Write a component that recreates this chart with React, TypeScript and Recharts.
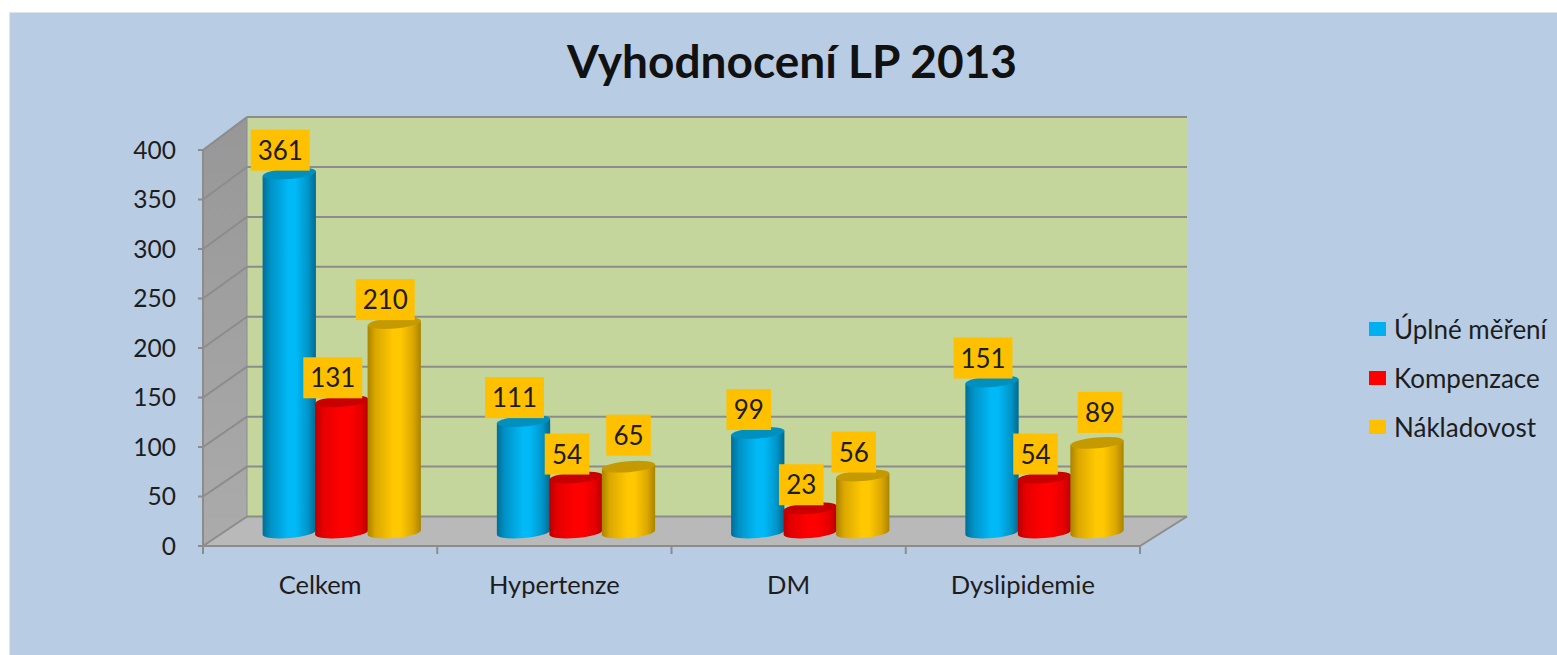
import { BarChart, Bar, XAxis, YAxis, Legend, LabelList } from 'recharts'

const categories = ['Celkem', 'Hypertenze', 'DM', 'Dyslipidemie']
const uplneMereni = [361, 111, 99, 151]
const kompenzace = [131, 54, 23, 54]
const nakladovost = [210, 65, 56, 89]
const yTicks = [0, 50, 100, 150, 200, 250, 300, 350, 400]

const data = categories.map((name, i) => ({
  name,
  uplne: uplneMereni[i],
  kompenzace: kompenzace[i],
  nakladovost: nakladovost[i],
}))

const FONT = 'Lato, sans-serif'
const TEXT = '#1d1d1d'
const LINE = '#8c8c8c'
const LEGEND_W = 188

// 3D box of the chart, px on the page
const FRONT_L = 203
const FRONT_R = 1140
const FRONT_TOP = 150
const FRONT_BOTTOM = 546
const BACK_L = 247
const BACK_R = 1187
const BACK_TOP = 117
const BACK_BOTTOM = 516.5
const DEPTH_X = 22 // bars stand halfway into the box

const frontY = (v: number) => FRONT_BOTTOM - (v / 400) * (FRONT_BOTTOM - FRONT_TOP)
const backY = (v: number) => BACK_BOTTOM - (v / 400) * (BACK_BOTTOM - BACK_TOP)

function Walls() {
  const bandW = (FRONT_R - FRONT_L) / categories.length
  return (
    <g>
      <defs>
        <linearGradient id="sideWall" x1="0" y1="0" x2="0" y2="1">
          <stop offset="0%" stopColor="#979797" />
          <stop offset="100%" stopColor="#ababab" />
        </linearGradient>
      </defs>
      <polygon points={`${BACK_L},${BACK_TOP} ${BACK_R},${BACK_TOP} ${BACK_R},${BACK_BOTTOM} ${BACK_L},${BACK_BOTTOM}`} fill="#c4d69c" />
      <polygon points={`${FRONT_L},${FRONT_TOP} ${BACK_L},${BACK_TOP} ${BACK_L},${BACK_BOTTOM} ${FRONT_L},${FRONT_BOTTOM}`} fill="url(#sideWall)" />
      <polygon points={`${FRONT_L},${FRONT_BOTTOM} ${BACK_L},${BACK_BOTTOM} ${BACK_R},${BACK_BOTTOM} ${FRONT_R},${FRONT_BOTTOM}`} fill="#b9b9b9" />
      {yTicks.map((v) => (
        <g key={v} stroke={LINE} strokeWidth={2} fill="none">
          <line x1={FRONT_L} y1={frontY(v)} x2={BACK_L} y2={backY(v)} />
          <line x1={BACK_L} y1={backY(v)} x2={BACK_R} y2={backY(v)} />
        </g>
      ))}
      <line x1={BACK_L} y1={BACK_TOP} x2={BACK_L} y2={BACK_BOTTOM} stroke={LINE} strokeWidth={1} />
      <line x1={FRONT_R} y1={FRONT_BOTTOM} x2={BACK_R} y2={BACK_BOTTOM} stroke={LINE} strokeWidth={2} />
      {[0, 1, 2, 3, 4].map((i) => (
        <line key={i} x1={FRONT_L + i * bandW} y1={FRONT_BOTTOM} x2={FRONT_L + i * bandW} y2={FRONT_BOTTOM + 8} stroke={LINE} strokeWidth={2} />
      ))}
      <text x={792} y={78} textAnchor="middle" fontFamily={FONT} fontWeight={700} fontSize={46} fill="#111">
        Vyhodnocení LP 2013
      </text>
    </g>
  )
}

const palettes = [
  { id: 'cylBlue', cap: '#0090bf', stops: ['#006e96', '#0092c6', '#00b9f6', '#00b9f6', '#0096ca', '#006a8e'] },
  { id: 'cylRed', cap: '#c80000', stops: ['#b80000', '#e60000', '#ff0000', '#ff0000', '#e60000', '#b80000'] },
  { id: 'cylGold', cap: '#c49a00', stops: ['#a88400', '#dca800', '#ffc800', '#ffc800', '#dca800', '#a88400'] },
]

function Cylinder(props: any) {
  const { x, y, width, height, palette } = props
  const rx = width / 2 + 0.5
  const ry = 5.5
  const cx = x + width / 2 + DEPTH_X
  const topY = y - 15
  const bottomY = y + height - 13.5
  const angle = -5
  const dx = rx * Math.cos((angle * Math.PI) / 180)
  const dy = rx * Math.sin((angle * Math.PI) / 180)
  const body = `M${cx - dx},${topY - dy} L${cx - dx},${bottomY - dy} A${rx},${ry} ${angle} 0 0 ${cx + dx},${bottomY + dy} L${cx + dx},${topY + dy} Z`
  return (
    <g>
      <path d={body} fill={`url(#${palette.id})`} />
      <ellipse cx={cx} cy={topY} rx={rx} ry={ry} fill={palette.cap} transform={`rotate(${angle} ${cx} ${topY})`} />
    </g>
  )
}

function ValueBox(props: any) {
  const { x, y, width, value, index, nudge } = props
  // a couple of labels were dragged by hand in the original
  const shift = (nudge && nudge[index]) || [0, 0]
  const w = String(value).length * 14.3 + 16
  const cx = x + width / 2 + DEPTH_X - 9 + shift[0]
  const bottom = y - 18 + shift[1]
  return (
    <g>
      <rect x={cx - w / 2} y={bottom - 41} width={w} height={41} fill="#ffc000" />
      <text x={cx} y={bottom - 11} textAnchor="middle" fontFamily={FONT} fontSize={26} fill={TEXT}>
        {value}
      </text>
    </g>
  )
}

const goldNudge = [null, [9, -8], null, [12, -7]]

function LegendBox({ payload }: any) {
  return (
    <div style={{ fontFamily: FONT, fontSize: 26, color: TEXT }}>
      {(payload || []).map((p: any) => (
        <div key={p.value} style={{ display: 'flex', alignItems: 'center', height: 49, whiteSpace: 'nowrap' }}>
          <span style={{ width: 17, height: 14, background: p.color, marginRight: 8, display: 'inline-block' }} />
          {p.value}
        </div>
      ))}
    </div>
  )
}

export default function App() {
  return (
    <div style={{ position: 'absolute', left: 0, top: 0, width: 1557, height: 655, background: '#fff', overflow: 'hidden' }}>
      <div style={{ position: 'absolute', left: 9, top: 12, right: 0, bottom: 0, background: '#b8cce4', borderLeft: '1px solid #dce6f1', borderTop: '1px solid #dce6f1' }} />
      <div style={{ position: 'absolute', left: 0, top: 0 }}>
        <BarChart
          width={1557}
          height={655}
          data={data}
          margin={{ top: FRONT_TOP, right: 1557 - FRONT_R - LEGEND_W, bottom: 0, left: 0 }}
          barSize={52.5}
          barGap={0}
        >
          <Walls />
          <XAxis
            dataKey="name"
            height={655 - FRONT_BOTTOM}
            tickLine={false}
            axisLine={{ stroke: LINE, strokeWidth: 2 }}
            tick={{ fontFamily: FONT, fontSize: 25.5, fill: TEXT }}
            tickMargin={24}
            interval={0}
          />
          <YAxis
            width={FRONT_L}
            domain={[0, 400]}
            ticks={yTicks}
            tickSize={5}
            tickMargin={22}
            axisLine={{ stroke: LINE, strokeWidth: 2 }}
            tickLine={{ stroke: LINE, strokeWidth: 2 }}
            tick={{ fontFamily: FONT, fontSize: 24.5, fill: TEXT }}
          />
          <Legend
            layout="vertical"
            align="right"
            verticalAlign="top"
            width={LEGEND_W}
            itemSorter={null}
            wrapperStyle={{ left: 1369, top: 304 }}
            content={<LegendBox />}
          />
          <Bar dataKey="uplne" name="Úplné měření" fill="#00b0f0" isAnimationActive={false} shape={(p: any) => <Cylinder {...p} palette={palettes[0]} />}>
            <LabelList dataKey="uplne" content={(p: any) => <ValueBox {...p} />} />
          </Bar>
          <Bar dataKey="kompenzace" name="Kompenzace" fill="#ff0000" isAnimationActive={false} shape={(p: any) => <Cylinder {...p} palette={palettes[1]} />}>
            <LabelList dataKey="kompenzace" content={(p: any) => <ValueBox {...p} />} />
          </Bar>
          <Bar dataKey="nakladovost" name="Nákladovost" fill="#ffc000" isAnimationActive={false} shape={(p: any) => <Cylinder {...p} palette={palettes[2]} />}>
            <LabelList dataKey="nakladovost" content={(p: any) => <ValueBox {...p} nudge={goldNudge} />} />
          </Bar>
          <defs>
            {palettes.map((pal) => (
              <linearGradient key={pal.id} id={pal.id} x1="0" y1="0" x2="1" y2="0">
                <stop offset="0%" stopColor={pal.stops[0]} />
                <stop offset="15%" stopColor={pal.stops[1]} />
                <stop offset="48%" stopColor={pal.stops[2]} />
                <stop offset="62%" stopColor={pal.stops[3]} />
                <stop offset="85%" stopColor={pal.stops[4]} />
                <stop offset="100%" stopColor={pal.stops[5]} />
              </linearGradient>
            ))}
          </defs>
        </BarChart>
      </div>
    </div>
  )
}
